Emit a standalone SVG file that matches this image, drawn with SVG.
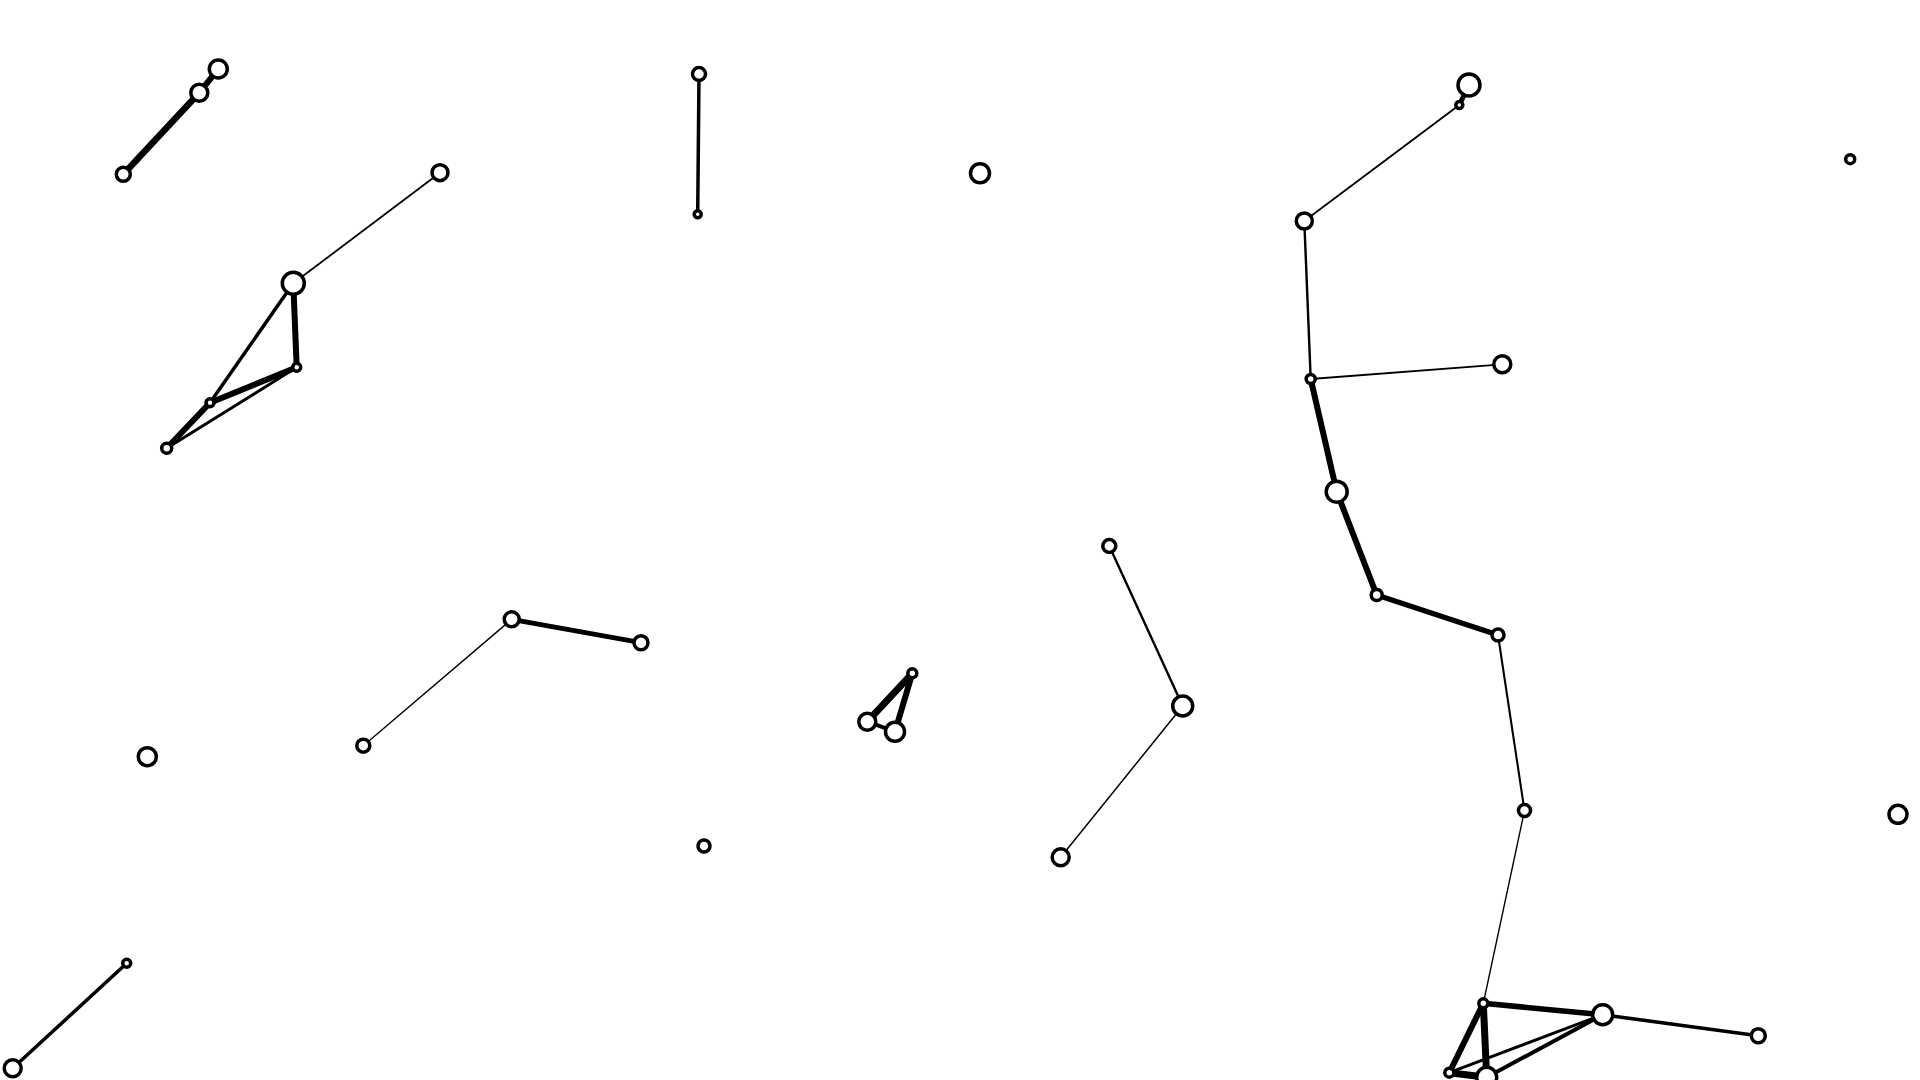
<svg xmlns="http://www.w3.org/2000/svg" width="1920" height="1080" viewBox="0 0 1920 1080">
<style>
.n{fill:#fff;stroke:#000;stroke-width:3.5}
.e{stroke:#000;fill:none;stroke-linecap:round}
</style>
<rect width="1920" height="1080" fill="#fff"/>
<g id="edges">
<line class="e" x1="123.3" y1="174.3" x2="199.3" y2="92.7" stroke-width="6.5"/>
<line class="e" x1="199.3" y1="92.7" x2="218.3" y2="69" stroke-width="6"/>
<line class="e" x1="293.3" y1="283.3" x2="440" y2="172.7" stroke-width="1.8"/>
<line class="e" x1="293.3" y1="283.3" x2="296.7" y2="367.3" stroke-width="6"/>
<line class="e" x1="293.3" y1="283.3" x2="210" y2="402.7" stroke-width="3.5"/>
<line class="e" x1="296.7" y1="367.3" x2="210" y2="402.7" stroke-width="6"/>
<line class="e" x1="210" y1="402.7" x2="166.7" y2="448.3" stroke-width="6"/>
<line class="e" x1="166.7" y1="448.3" x2="296.7" y2="367.3" stroke-width="3"/>
<line class="e" x1="699" y1="74" x2="697.7" y2="214.3" stroke-width="3.5"/>
<line class="e" x1="912.3" y1="673.3" x2="867.3" y2="721.7" stroke-width="7"/>
<line class="e" x1="912.3" y1="673.3" x2="895" y2="731.7" stroke-width="6"/>
<line class="e" x1="867.3" y1="721.7" x2="895" y2="731.7" stroke-width="4"/>
<line class="e" x1="1469" y1="85" x2="1459.3" y2="105" stroke-width="5"/>
<line class="e" x1="1459.3" y1="105" x2="1304.3" y2="221" stroke-width="1.8"/>
<line class="e" x1="1304.3" y1="221" x2="1310.7" y2="379" stroke-width="2.4"/>
<line class="e" x1="1310.7" y1="379" x2="1502.3" y2="364.3" stroke-width="1.8"/>
<line class="e" x1="1310.7" y1="379" x2="1336.7" y2="491.7" stroke-width="6"/>
<line class="e" x1="1336.7" y1="491.7" x2="1376.7" y2="595" stroke-width="6"/>
<line class="e" x1="1376.7" y1="595" x2="1498" y2="635" stroke-width="5.5"/>
<line class="e" x1="1498" y1="635" x2="1524.5" y2="810.6" stroke-width="2.1"/>
<line class="e" x1="1524.5" y1="810.6" x2="1483.3" y2="1003.3" stroke-width="1.4"/>
<line class="e" x1="1483.3" y1="1003.3" x2="1602.7" y2="1014.7" stroke-width="5.5"/>
<line class="e" x1="1602.7" y1="1014.7" x2="1758.3" y2="1035.7" stroke-width="3.5"/>
<line class="e" x1="1483.3" y1="1003.3" x2="1449.3" y2="1072.7" stroke-width="6"/>
<line class="e" x1="1483.3" y1="1003.3" x2="1486.7" y2="1077.3" stroke-width="7"/>
<line class="e" x1="1449.3" y1="1072.7" x2="1602.7" y2="1014.7" stroke-width="3"/>
<line class="e" x1="1486.7" y1="1077.3" x2="1602.7" y2="1014.7" stroke-width="4"/>
<line class="e" x1="1449.3" y1="1072.7" x2="1486.7" y2="1077.3" stroke-width="7"/>
<line class="e" x1="1109.3" y1="546" x2="1182.7" y2="706" stroke-width="2.4"/>
<line class="e" x1="1182.7" y1="706" x2="1060.7" y2="857.3" stroke-width="1.5"/>
<line class="e" x1="511.7" y1="619.3" x2="363.3" y2="745.7" stroke-width="1.4"/>
<line class="e" x1="511.7" y1="619.3" x2="641" y2="642.7" stroke-width="4.8"/>
<line class="e" x1="126.7" y1="963.3" x2="12.7" y2="1068.3" stroke-width="3.5"/>
</g>
<g id="n1"><circle class="n" cx="218.3" cy="69" r="9"/></g>
<g id="n2"><circle class="n" cx="199.3" cy="92.7" r="8.5"/></g>
<g id="n3"><circle class="n" cx="123.3" cy="174.3" r="7"/></g>
<g id="n4"><circle class="n" cx="440" cy="172.7" r="8"/></g>
<g id="n5"><circle class="n" cx="293.3" cy="283.3" r="11"/></g>
<g id="n6"><circle class="n" cx="296.7" cy="367.3" r="4"/></g>
<g id="n7"><circle class="n" cx="210" cy="402.7" r="4"/></g>
<g id="n8"><circle class="n" cx="166.7" cy="448.3" r="5"/></g>
<g id="n9"><circle class="n" cx="699" cy="74" r="6.5"/></g>
<g id="n10"><circle class="n" cx="697.7" cy="214.3" r="3.5"/></g>
<g id="n11"><circle class="n" cx="980" cy="173.3" r="9.5"/></g>
<g id="n12"><circle class="n" cx="912.3" cy="673.3" r="4.5"/></g>
<g id="n13"><circle class="n" cx="867.3" cy="721.7" r="8.5"/></g>
<g id="n14"><circle class="n" cx="895" cy="731.7" r="9.5"/></g>
<g id="n15"><circle class="n" cx="1469" cy="85" r="11"/></g>
<g id="n16"><circle class="n" cx="1459.3" cy="105" r="3.5"/></g>
<g id="n17"><circle class="n" cx="1304.3" cy="221" r="8"/></g>
<g id="n18"><circle class="n" cx="1310.7" cy="379" r="4.5"/></g>
<g id="n19"><circle class="n" cx="1502.3" cy="364.3" r="8.5"/></g>
<g id="n20"><circle class="n" cx="1336.7" cy="491.7" r="10.5"/></g>
<g id="n21"><circle class="n" cx="1376.7" cy="595" r="5.5"/></g>
<g id="n22"><circle class="n" cx="1498" cy="635" r="6"/></g>
<g id="n23"><circle class="n" cx="1524.5" cy="810.6" r="6"/></g>
<g id="n24"><circle class="n" cx="1483.3" cy="1003.3" r="4.5"/></g>
<g id="n25"><circle class="n" cx="1602.7" cy="1014.7" r="10"/></g>
<g id="n26"><circle class="n" cx="1758.3" cy="1035.7" r="7"/></g>
<g id="n27"><circle class="n" cx="1449.3" cy="1072.7" r="4.5"/></g>
<g id="n28"><circle class="n" cx="1486.7" cy="1077.3" r="10"/></g>
<g id="n29"><circle class="n" cx="1109.3" cy="546" r="6.5"/></g>
<g id="n30"><circle class="n" cx="1182.7" cy="706" r="10"/></g>
<g id="n31"><circle class="n" cx="1060.7" cy="857.3" r="8.5"/></g>
<g id="n32"><circle class="n" cx="511.7" cy="619.3" r="7.5"/></g>
<g id="n33"><circle class="n" cx="641" cy="642.7" r="7"/></g>
<g id="n34"><circle class="n" cx="363.3" cy="745.7" r="6.5"/></g>
<g id="n35"><circle class="n" cx="147.3" cy="756.7" r="9"/></g>
<g id="n36"><circle class="n" cx="704" cy="846" r="6"/></g>
<g id="n37"><circle class="n" cx="126.7" cy="963.3" r="4"/></g>
<g id="n38"><circle class="n" cx="12.7" cy="1068.3" r="8.5"/></g>
<g id="n39"><circle class="n" cx="1850.2" cy="159.2" r="4.5"/></g>
<g id="n40"><circle class="n" cx="1898" cy="814.3" r="9"/></g>
</svg>
